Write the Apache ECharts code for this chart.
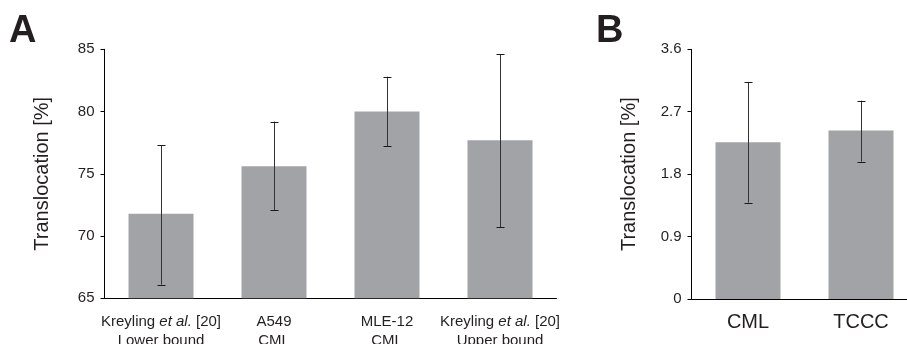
<!DOCTYPE html>
<html>
<head>
<meta charset="utf-8">
<script src="https://cdn.jsdelivr.net/npm/echarts@6/dist/echarts.min.js"></script>
<style>
html,body{margin:0;padding:0;background:#fff;}
#chart{width:907px;height:344px;}
</style>
</head>
<body>
<div id="chart"></div>
<script>
// Panel A
const categoriesA = ['Kreyling {i|et al.} [20]\nLower bound', 'A549\nCML', 'MLE-12\nCML', 'Kreyling {i|et al.} [20]\nUpper bound'];
const valuesA = [71.8, 75.6, 80.0, 77.7];
const errLowA = [66.1, 72.1, 77.2, 70.7];
const errHighA = [77.3, 79.2, 82.8, 84.6];
const ticksA = [65, 70, 75, 80, 85];

// Panel B
const categoriesB = ['CML', 'TCCC'];
const valuesB = [2.26, 2.43];
const errLowB = [1.39, 1.98];
const errHighB = [3.13, 2.86];
const ticksB = ['0', '0.9', '1.8', '2.7', '3.6'];

const FONT = 'Liberation Sans, Arial, Helvetica, sans-serif';
const BAR = '#a2a3a7';

function errData(low, high) {
  return low.map((l, i) => [i, l, high[i]]);
}
function errRender(params, api) {
  const i = api.value(0);
  const lo = api.coord([i, api.value(1)]);
  const hi = api.coord([i, api.value(2)]);
  const x = Math.round(lo[0]) + 0.5;
  const hw = 4;
  const st = { stroke: '#1a1a1a', lineWidth: 1 };
  return {
    type: 'group',
    children: [
      { type: 'line', shape: { x1: x, y1: hi[1], x2: x, y2: lo[1] }, style: { stroke: '#333', lineWidth: 1 } },
      { type: 'line', shape: { x1: x - hw, y1: Math.round(hi[1]) + 0.5, x2: x + hw, y2: Math.round(hi[1]) + 0.5 }, style: st },
      { type: 'line', shape: { x1: x - hw, y1: Math.round(lo[1]) + 0.5, x2: x + hw, y2: Math.round(lo[1]) + 0.5 }, style: st }
    ]
  };
}

const chart = echarts.init(document.getElementById('chart'), null, { renderer: 'canvas' });

const axisLine = { show: true, lineStyle: { color: '#000', width: 1 } };
const yCommon = {
  type: 'value',
  axisLine: axisLine,
  axisTick: { show: true, length: 4, inside: false, lineStyle: { color: '#000', width: 1 } },
  splitLine: { show: false },
  nameLocation: 'middle',
  nameGap: 52,
  nameTextStyle: { fontFamily: FONT, fontSize: 20, color: '#231f20' },
  axisLabel: { fontFamily: FONT, fontSize: 15, color: '#231f20', margin: 10 }
};

chart.setOption({
  animation: false,
  backgroundColor: '#fff',
  graphic: [
    { type: 'text', left: 9, top: 13, style: { text: 'A', font: 'bold 38px ' + FONT, fill: '#231f20' } },
    { type: 'text', left: 596, top: 13, style: { text: 'B', font: 'bold 38px ' + FONT, fill: '#231f20' } }
  ],
  grid: [
    { left: 104.5, top: 49.3, width: 452, height: 249, outerBoundsMode: 'none', containLabel: false },
    { left: 691.5, top: 49.3, width: 226, height: 249.7, outerBoundsMode: 'none', containLabel: false }
  ],
  xAxis: [
    {
      type: 'category', gridIndex: 0, data: categoriesA,
      axisLine: axisLine, axisTick: { show: false },
      axisLabel: {
        interval: 0, fontFamily: FONT, fontSize: 15, color: '#231f20', margin: 14.5, lineHeight: 19,
        rich: { i: { fontStyle: 'italic', fontFamily: FONT, fontSize: 15, color: '#231f20', lineHeight: 19 } }
      }
    },
    {
      type: 'category', gridIndex: 1, data: categoriesB,
      axisLine: axisLine, axisTick: { show: false },
      axisLabel: { interval: 0, fontFamily: FONT, fontSize: 20, color: '#231f20', margin: 13 }
    }
  ],
  yAxis: [
    Object.assign({}, yCommon, {
      gridIndex: 0, min: ticksA[0], max: ticksA[ticksA.length - 1], interval: ticksA[1] - ticksA[0],
      name: 'Translocation [%]'
    }),
    Object.assign({}, yCommon, {
      gridIndex: 1, min: 0, max: 3.6, interval: 0.9,
      name: 'Translocation [%]',
      axisLabel: Object.assign({}, yCommon.axisLabel, {
        formatter: function (v) { return ticksB[Math.round(v / 0.9)]; }
      })
    })
  ],
  series: [
    { type: 'bar', xAxisIndex: 0, yAxisIndex: 0, data: valuesA, barWidth: 65, itemStyle: { color: BAR }, z: 2 },
    { type: 'custom', xAxisIndex: 0, yAxisIndex: 0, data: errData(errLowA, errHighA), renderItem: errRender, encode: { x: 0, y: [1, 2] }, z: 3 },
    { type: 'bar', xAxisIndex: 1, yAxisIndex: 1, data: valuesB, barWidth: 65, itemStyle: { color: BAR }, z: 2 },
    { type: 'custom', xAxisIndex: 1, yAxisIndex: 1, data: errData(errLowB, errHighB), renderItem: errRender, encode: { x: 0, y: [1, 2] }, z: 3 }
  ]
});
</script>
</body>
</html>
